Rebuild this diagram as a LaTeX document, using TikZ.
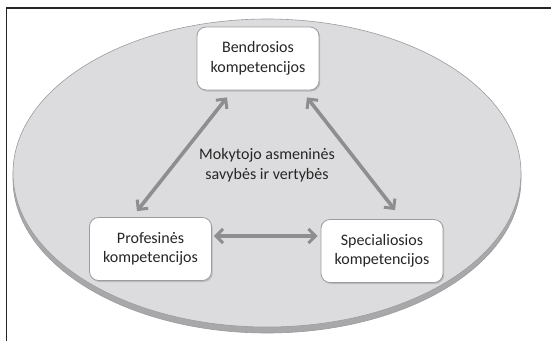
\documentclass[tikz,border=0pt]{standalone}
\usepackage{fontspec}
\setmainfont{Carlito}
\usetikzlibrary{arrows.meta,calc,shadows}
\definecolor{face}{HTML}{DCDCDE}
\definecolor{side}{HTML}{A8A8AA}
\definecolor{rim}{HTML}{9C9C9E}
\definecolor{arrowgray}{HTML}{8E8E90}
\definecolor{txt}{HTML}{262626}
\tikzset{
  compbox/.style={draw=rim, line width=0.8pt, fill=white, rounded corners=9pt,
    minimum width=122pt, minimum height=63pt, align=center, text=txt,
    font=\fontsize{16}{19.5}\selectfont,
    drop shadow={shadow xshift=1.2pt, shadow yshift=-1.5pt, fill=black!35, opacity=0.6}},
  link/.style={draw=arrowgray, line width=3.6pt,
    {Straight Barb[length=7pt,width=14pt,line width=3pt]}-{Straight Barb[length=7pt,width=14pt,line width=3pt]}},
  centertext/.style={align=center, text=txt, font=\fontsize{16}{19.5}\selectfont}
}
\begin{document}
\begin{tikzpicture}[x=1pt,y=-1pt]
\useasboundingbox (0,0) rectangle (551,341);
\fill[white] (0,0) rectangle (551,341);
% frame (top and left visible)
\draw[line width=1.2pt, black!85] (6.5,341) -- (6.5,8) -- (551,8);
% disk
\draw[rim, fill=side, line width=0.6pt] (267,179) ellipse [x radius=254, y radius=154];
\draw[rim, fill=face, line width=0.6pt] (267,173) ellipse [x radius=254, y radius=154];
% boxes
\node[compbox] (b) at (258,58.5) {Bendrosios\\kompetencijos};
\node[compbox] (p) at (150.5,249) {Profesinės\\kompetencijos};
\node[compbox] (s) at (382,251) {Specialiosios\\kompetencijos};
\node[centertext] (m) at (267,165) {Mokytojo asmeninės\\savybės ir vertybės};
% connectors
\draw[link] ($(b.south)+(-31,7)$) -- ($(p.north)+(-13.5,-6)$);
\draw[link] ($(b.south)+(49,7)$) -- ($(s.north)+(13,-9)$);
\draw[link] ($(p.east)+(2,-13)$) -- ($(s.west)+(-3,-15)$);
\end{tikzpicture}
\end{document}
